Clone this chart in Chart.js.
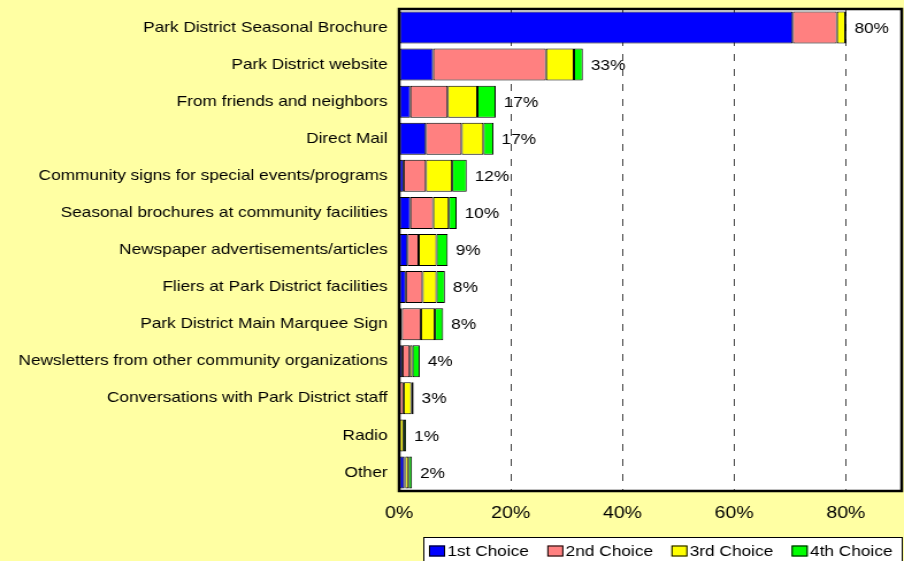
<!DOCTYPE html>
<html>
<head>
<meta charset="utf-8">
<title>How residents hear about Park District programs</title>
<script src="https://cdn.jsdelivr.net/npm/chart.js@4/dist/chart.umd.min.js"></script>
<style>
  html, body { margin: 0; padding: 0; background: #ffffa3; overflow: hidden; }
  #wrap { width: 904px; height: 561px; }
  /* the chart is laid out narrower and widened sideways */
  #chart { display: block; transform: scaleX(1.1501); transform-origin: 0 0; }
</style>
</head>
<body>
<div id="wrap"><canvas id="chart" width="786" height="561"></canvas></div>
<script>
const categories = [
  "Park District Seasonal Brochure",
  "Park District website",
  "From friends and neighbors",
  "Direct Mail",
  "Community signs for special events/programs",
  "Seasonal brochures at community facilities",
  "Newspaper advertisements/articles",
  "Fliers at Park District facilities",
  "Park District Main Marquee Sign",
  "Newsletters from other community organizations",
  "Conversations with Park District staff",
  "Radio",
  "Other"
];

// percent of respondents, by choice rank
const firstChoice  = [70.5, 6.1, 2.0, 4.8, 0.8, 2.0, 1.5, 1.2, 0.5, 0.6, 0.1, 0.05, 0.9];
const secondChoice = [7.9, 20.2, 6.7, 6.4, 4.0, 4.1, 2.0, 3.0, 3.4, 1.3, 0.7, 0.05, 0.2];
const thirdChoice  = [1.5, 5.0, 5.3, 3.9, 4.7, 2.8, 3.2, 2.5, 2.5, 0.5, 1.4, 0.7, 0.6];
const fourthChoice = [0.2, 1.6, 3.3, 1.8, 2.6, 1.4, 2.0, 1.5, 1.5, 1.3, 0.4, 0.45, 0.6];

const seriesNames = ["1st Choice", "2nd Choice", "3rd Choice", "4th Choice"];
const seriesColors = ["#0000ff", "#ff8080", "#ffff00", "#00ff00"];
const xTicks = [0, 20, 40, 60, 80];

const FONT = "'Liberation Sans', Arial, sans-serif";

const totals = categories.map((_, i) =>
  firstChoice[i] + secondChoice[i] + thirdChoice[i] + fourthChoice[i]);

// white plot area behind the grid
const plotBackground = {
  id: 'plotBackground',
  beforeDraw(chart) {
    const { ctx, chartArea: a } = chart;
    ctx.save();
    ctx.fillStyle = '#ffffff';
    ctx.fillRect(a.left, a.top, a.right - a.left, a.bottom - a.top);
    ctx.restore();
  }
};

// black frame, total labels and the boxed legend
const decorations = {
  id: 'decorations',
  afterDatasetsDraw(chart) {
    const { ctx, chartArea: a } = chart;
    ctx.save();
    ctx.strokeStyle = '#000';
    ctx.lineWidth = 2.5;
    ctx.strokeRect(a.left, a.top, a.right - a.left, a.bottom - a.top);

    const last = chart.getDatasetMeta(chart.data.datasets.length - 1);
    ctx.fillStyle = '#000';
    ctx.font = '15px ' + FONT;
    ctx.textBaseline = 'middle';
    ctx.textAlign = 'left';
    last.data.forEach((bar, i) => {
      ctx.fillText(Math.round(totals[i]) + '%', bar.x + 7, bar.y + 1);
    });
    ctx.restore();
  },
  afterDraw(chart) {
    const { ctx } = chart;
    ctx.save();
    ctx.fillStyle = '#ffffff';
    ctx.fillRect(368, 537, 417, 40);
    ctx.strokeStyle = '#000';
    ctx.lineWidth = 1;
    ctx.strokeRect(368.5, 537.5, 416, 40);

    ctx.font = '15px ' + FONT;
    ctx.textBaseline = 'middle';
    ctx.textAlign = 'left';
    let x = 373;
    const y = 551;
    chart.data.datasets.forEach(ds => {
      ctx.fillStyle = ds.backgroundColor;
      ctx.fillRect(x, y - 5.5, 14, 11);
      ctx.strokeStyle = '#000';
      ctx.strokeRect(x + 0.5, y - 5, 13, 10);
      ctx.fillStyle = '#000';
      ctx.fillText(ds.label, x + 16, y + 1);
      x += 16 + ctx.measureText(ds.label).width + 16;
    });
    ctx.restore();
  }
};

new Chart(document.getElementById('chart'), {
  type: 'bar',
  data: {
    labels: categories,
    datasets: [firstChoice, secondChoice, thirdChoice, fourthChoice].map((values, k) => ({
      label: seriesNames[k],
      data: values,
      backgroundColor: seriesColors[k],
      borderColor: '#000',
      borderWidth: 1,
      borderSkipped: false,
      barPercentage: 0.863,
      categoryPercentage: 1
    }))
  },
  options: {
    indexAxis: 'y',
    responsive: false,
    animation: false,
    devicePixelRatio: 1,
    layout: { padding: { top: 9, right: 2, bottom: 30, left: 0 } },
    plugins: {
      legend: { display: false },
      tooltip: { enabled: false }
    },
    scales: {
      x: {
        stacked: true,
        min: 0,
        max: 90,
        ticks: {
          stepSize: 20,
          color: '#000',
          font: { family: FONT, size: 17 },
          padding: 12,
          callback: v => v + '%'
        },
        afterBuildTicks(scale) {
          scale.ticks = xTicks.map(v => ({ value: v }));
        },
        afterFit(scale) { scale.height = 40; },
        grid: {
          drawTicks: false,
          color: ctx => (ctx.tick && ctx.tick.value === 0) ? 'rgba(0,0,0,0)' : '#444',
          lineWidth: 1
        },
        border: { display: false, dash: [7, 8] }
      },
      y: {
        stacked: true,
        ticks: {
          color: '#000',
          font: { family: FONT, size: 15 },
          padding: 10,
          autoSkip: false
        },
        afterFit(scale) {
          scale.width = 347;
          scale.paddingTop = 0;
          scale.paddingBottom = 0;
        },
        grid: { display: false, drawTicks: false },
        border: { display: false }
      }
    }
  },
  plugins: [plotBackground, decorations]
});
</script>
</body>
</html>
